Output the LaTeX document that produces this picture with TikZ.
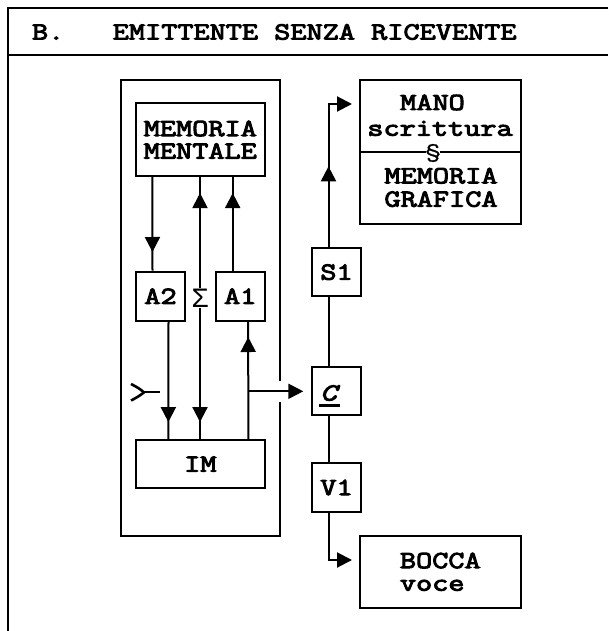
\documentclass[tikz,border=0pt]{standalone}
\usepackage{fontspec}
\newfontfamily\cfont{Latin Modern Mono}[FakeStretch=1.28,FakeBold=4]
\newfontfamily\cthin{Latin Modern Mono}[FakeStretch=1.2,FakeBold=1]
\newfontfamily\gfont{Liberation Mono}
\usetikzlibrary{arrows.meta,decorations.markings}

\newcommand\boxfont{\cfont\fontsize{24.5}{22.6}\selectfont}
\tikzset{
  box/.style={draw,inner sep=0pt,font=\boxfont},
  lbl/.style={inner sep=0pt,font=\boxfont},
  tipat/.style={postaction={decorate},decoration={markings,mark=at position #1 with {\arrow{Triangle[width=15pt,length=15pt]}}}},
}

\begin{document}
\begin{tikzpicture}[x=1pt,y=-1pt,>={Triangle[width=15pt,length=15pt]},line width=2pt]
\useasboundingbox (0,0) rectangle (608,631);
% frame and title
\draw[line width=2.4pt] (608,8)--(8,8)--(8,631); \draw[line width=2.4pt] (8,55)--(608,55);
\node[lbl,anchor=base west] (title) at (31,39.5) {B.\ \ \ EMITTENTE SENZA RICEVENTE};
% left block
\draw (280.3,381)--(280.3,80)--(120.7,80)--(120.7,536)--(280.3,536)--(280.3,402);
\node[box,minimum width=128.7pt,minimum height=72.7pt,align=center] (mem) at (200.3,139.7) {MEMORIA\\MENTALE};
\node[box,minimum size=49pt] (a2) at (160.5,296.2) {A2};
\node[box,minimum size=49pt] (a1) at (240.2,296.2) {A1};
\node[box,minimum width=128.7pt,minimum height=48.3pt] (im) at (200.3,464.2) {IM};
\node[inner sep=0pt,font=\gfont\fontsize{28}{28}\selectfont] (sig) at (200,298) {Σ};
\draw[tipat=-18.7pt] ([xshift=-48pt]mem.south) -- ([xshift=-8pt]a2.north);
\draw[tipat=-17pt] ([xshift=8pt]a2.south) -- ([xshift=-32pt]im.north);
\draw[tipat=-16pt] (sig.north) -- (sig.north |- mem.south);
\draw[tipat=-17pt] (sig.south) -- (sig.south |- im.north);
\draw[tipat=-16pt] ([xshift=-7.5pt]a1.north) -- ([xshift=32.4pt]mem.south);
\path ([xshift=48pt]im.north) coordinate (im-up);
\draw[tipat=-15.3pt] (im-up) -- ([xshift=8pt]a1.south);
% input mark
\coordinate (in-mark) at (144,392.3);
\draw[line width=2.6pt] (131,384) .. controls (137,387) and (140,389) .. (in-mark) .. controls (140,395.5) and (137,397.5) .. (131,400.5);
\draw (in-mark) -- ++(16,0);
% right column
\node[box,minimum width=48.4pt,minimum height=47.7pt] (s1) at (336.5,272.2) {S1};
\node[box,minimum width=48.4pt,minimum height=47.7pt] (c) at (336.5,391.3) {};
\node[lbl] (c-lbl) at (330,393) {\textit{C}};
\draw[line width=2.4pt] ([yshift=-5pt]c-lbl.base west) -- ([yshift=-5pt,xshift=-1pt]c-lbl.base east);
\node[box,minimum width=48.4pt,minimum height=48.4pt] (v1) at (336.5,487.5) {V1};
\draw[->,shorten >=8pt] (im-up |- c.west) -- (c.west);
\draw ([xshift=-8pt]c.north) -- ([xshift=-8pt]s1.south);
\draw ([xshift=-7.5pt]c.south) -- ([xshift=-7.5pt]v1.north);
% MANO / MEMORIA GRAFICA
\node[box,minimum width=160.7pt,minimum height=144pt] (mano) at (440.3,152) {};
\draw (mano.west) -- (mano.east);
\node[inner sep=0pt,fill=white,font=\cthin\fontsize{24}{24}\selectfont] (sect) at (433,153) {§};
\node[lbl,anchor=base] (mano-a) at (432.5,110) {MANO};
\node[lbl,anchor=base] (mano-b) at (440,135.7) {scrittura};
\node[lbl,anchor=base] (graf-a) at (441,183.3) {MEMORIA};
\node[lbl,anchor=base] (graf-b) at (441,206.7) {GRAFICA};
\coordinate (mano-in) at (360,104);
\draw[tipat=81pt,->,shorten >=8pt] ([xshift=-8pt]s1.north) |- (mano-in);
% BOCCA
\node[box,minimum width=160.7pt,minimum height=71.7pt,align=left] (bocca) at (440.3,571.8) {BOCCA\\voce};
\coordinate (bocca-in) at (360,560);
\draw[->,shorten >=8pt] ([xshift=-7.5pt]v1.south) |- (bocca-in);
\end{tikzpicture}
\end{document}
